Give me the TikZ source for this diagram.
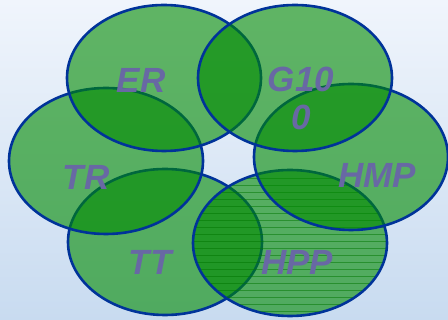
\documentclass[tikz,border=0pt]{standalone}
\usepackage{fontspec}
\setmainfont{Liberation Sans}
\usetikzlibrary{shapes.geometric}

\definecolor{skytop}{HTML}{F0F5FC}
\definecolor{skybot}{HTML}{C8DBF0}
\definecolor{leaf}{HTML}{008A00}
\definecolor{rim}{HTML}{003399}
\definecolor{tagcol}{HTML}{6868A4}

\begin{document}
\begin{tikzpicture}[x=1pt, y=-1pt,
    petal/.style={ellipse, draw=rim, line width=2.6pt, fill=leaf,
                  fill opacity=0.6, draw opacity=1,
                  minimum width=194pt, minimum height=146pt, inner sep=0pt},
    tag/.style={text=tagcol, font=\fontsize{35}{37}\selectfont\bfseries\itshape,
                inner sep=0pt, align=center},
  ]
    % background
    \shade[top color=skytop, bottom color=skybot] (0,0) rectangle (448,320);
    \useasboundingbox (0,0) rectangle (448,320);

    % petals, lower ones first
    \node[petal] (tt) at (165,242) {};
    \node[petal] (hpp) at (290,243) {};
    \begin{scope}
      \path[clip] (hpp.center) ellipse [x radius=96pt, y radius=72pt];
      \foreach \yy in {178,185,...,312}
        \draw[leaf!85!black, line width=0.7pt, opacity=0.5] (190,\yy) -- (390,\yy);
    \end{scope}
    \node[petal] (hmp) at (351,157) {};
    \node[petal] (tr) at (106,161) {};
    \node[petal] (er) at (164,78) {};
    \node[petal] (g100) at (295,78) {};

    % labels
    \node[tag] (erlab) at (141,80) {ER};
    \node[tag] (glab) at (301,98) {G10\\[1pt]0};
    \node[tag] (trlab) at (86,177) {TR};
    \node[tag] (hmplab) at (377,175) {HMP};
    \node[tag] (ttlab) at (150,262) {TT};
    \node[tag] (hpplab) at (297,262) {HPP};
\end{tikzpicture}
\end{document}
